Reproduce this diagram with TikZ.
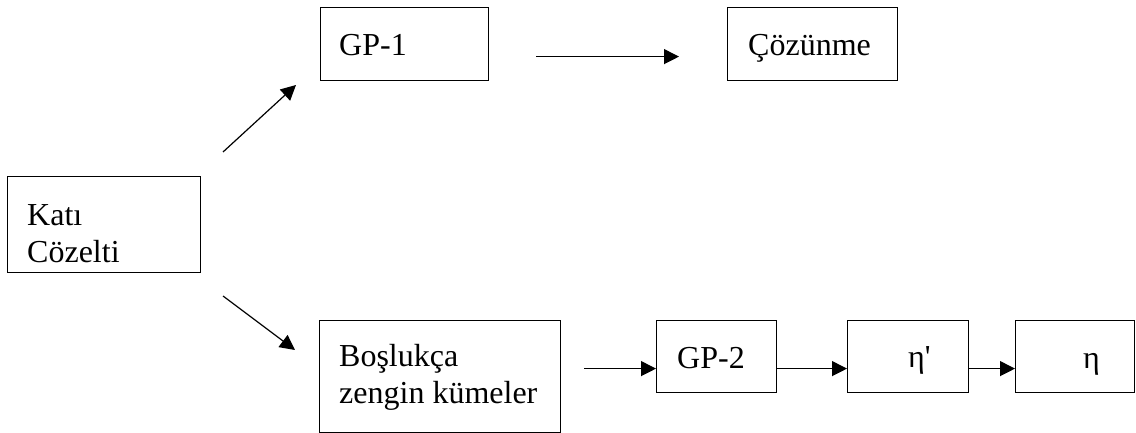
\documentclass[tikz,border=0pt]{standalone}
\usepackage{fontspec}
\setmainfont{Liberation Serif}
\usetikzlibrary{arrows.meta}

\tikzset{
  kutu/.style={draw, line width=1.2pt, inner sep=0pt, anchor=north west},
  yazi/.style={font=\fontsize{32}{37}\selectfont, inner sep=0pt, anchor=base west, align=left},
  ok/.style={line width=1.2pt, -{Triangle[length=15pt,width=15pt]}}
}

\begin{document}
\begin{tikzpicture}[x=1pt,y=-1pt]
	\useasboundingbox (0,0) rectangle (1136,433);
	
	% kutular
	\node[kutu, minimum width=193pt, minimum height=96pt] (kati) at (7,176) {};
	\node[kutu, minimum width=168pt, minimum height=73pt] (gp1) at (320,7) {};
	\node[kutu, minimum width=170pt, minimum height=73pt] (coz) at (727,7) {};
	\node[kutu, minimum width=241pt, minimum height=112pt] (bos) at (319,320) {};
	\node[kutu, minimum width=120pt, minimum height=72pt] (gp2) at (656,320) {};
	\node[kutu, minimum width=121pt, minimum height=72pt] (etap) at (847,320) {};
	\node[kutu, minimum width=119pt, minimum height=72pt] (eta) at (1015,320) {};
	
	% yazilar (base = son satir)
	\node[yazi] (kati-t) at (27,262) {Katı\\Cözelti};
	\node[yazi] (gp1-t) at (339,56) {GP-1};
	\node[yazi] (coz-t) at (748,56) {Çözünme};
	\node[yazi] (bos-t) at (339,403) {Boşlukça\\zengin kümeler};
	\node[yazi] (gp2-t) at (677,368) {GP-2};
	\node[yazi] (etap-t) at (908,367) {η\textquotesingle};
	\node[yazi] (eta-t) at (1083,368) {η};
	
	% oklar
	\coordinate (ust1) at (223,152);
	\coordinate (ust2) at (296,85);
	\coordinate (alt1) at (223,296);
	\coordinate (alt2) at (295,350);
	
	\draw[ok] (ust1) -- (ust2);
	\draw[ok] (alt1) -- (alt2);
	
	\draw[ok, shorten <=47pt, shorten >=48pt] ([yshift=-12.5pt]gp1.east) -- ([yshift=-12.5pt]coz.west);
	\draw[ok, shorten <=23pt] ([yshift=8pt]bos.east) -- ([yshift=-12pt]gp2.west);
	\draw[ok] ([yshift=-12pt]gp2.east) -- ([yshift=-12pt]etap.west);
	\draw[ok] ([yshift=-12pt]etap.east) -- ([yshift=-12pt]eta.west);
	
\end{tikzpicture}
\end{document}
